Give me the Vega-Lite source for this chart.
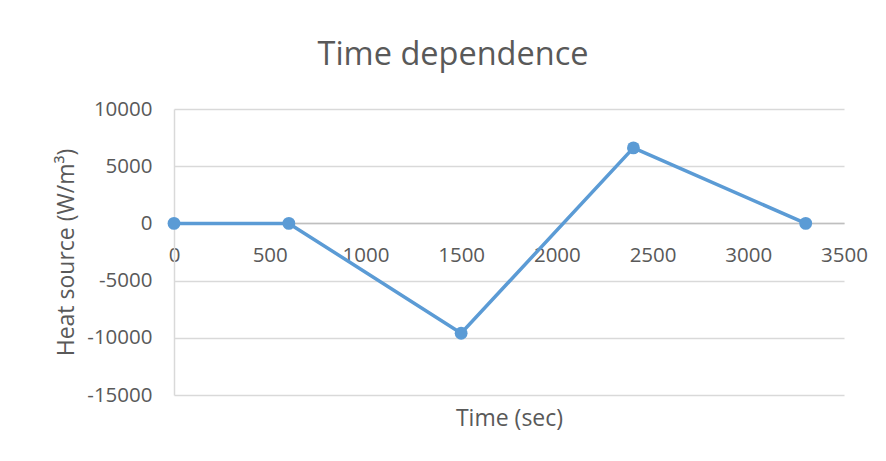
{
  "$schema": "https://vega.github.io/schema/vega-lite/v6.json",
  "autosize": {"type": "none"},
  "width": 670,
  "height": 286,
  "padding": {"left": 174, "top": 109, "right": 42, "bottom": 66},
  "background": "white",
  "title": {
    "text": "Time dependence",
    "anchor": "middle",
    "dx": -56,
    "offset": 28,
    "font": "Open Sans",
    "fontSize": 32.5,
    "fontWeight": "normal",
    "color": "#595959"
  },
  "data": {
    "values": [
      {"time": 0, "heat": 0},
      {"time": 600, "heat": 0},
      {"time": 1500, "heat": -9600},
      {"time": 2400, "heat": 6600},
      {"time": 3300, "heat": 0}
    ]
  },
  "mark": {
    "type": "line",
    "color": "#5b9bd5",
    "strokeWidth": 3.5,
    "point": {"filled": true, "size": 165, "color": "#5b9bd5", "opacity": 1}
  },
  "encoding": {
    "x": {
      "field": "time",
      "type": "quantitative",
      "scale": {"domain": [0, 3500], "nice": false},
      "axis": {
        "title": "Time (sec)",
        "values": [0, 500, 1000, 1500, 2000, 2500, 3000, 3500],
        "labelExpr": "'' + datum.value",
        "orient": "bottom",
        "offset": -172,
        "grid": false,
        "ticks": false,
        "domainColor": "#bfbfbf",
        "domainWidth": 1.5,
        "labelPadding": 22,
        "labelFlush": false,
        "labelOverlap": false,
        "titleY": 195,
        "titleBaseline": "middle"
      }
    },
    "y": {
      "field": "heat",
      "type": "quantitative",
      "scale": {"domain": [-15000, 10000], "nice": false},
      "axis": {
        "title": "Heat source (W/m³)",
        "values": [-15000, -10000, -5000, 0, 5000, 10000],
        "labelExpr": "'' + datum.value",
        "grid": true,
        "gridColor": "#d9d9d9",
        "gridWidth": 1.5,
        "ticks": false,
        "domainColor": "#d9d9d9",
        "domainWidth": 1.5,
        "labelPadding": 22,
        "titlePadding": 8
      }
    }
  },
  "config": {
    "view": {"stroke": null},
    "font": "Open Sans",
    "axis": {
      "labelFont": "Open Sans",
      "labelFontSize": 20.5,
      "labelColor": "#595959",
      "titleFont": "Open Sans",
      "titleFontSize": 23,
      "titleFontWeight": "normal",
      "titleColor": "#595959"
    }
  }
}
